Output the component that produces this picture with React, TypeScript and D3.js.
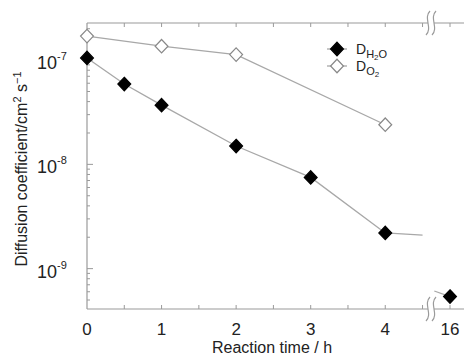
import { useEffect, useRef } from 'react';
import * as d3 from 'd3';

// reaction time (h) and diffusion coefficients (cm^2 s^-1)
const timeH2O = [0, 0.5, 1, 2, 3, 4];
const dH2O = [1.05e-7, 5.9e-8, 3.7e-8, 1.5e-8, 7.5e-9, 2.2e-9];
const tailH2O: [number, number][] = [[4, 2.2e-9], [4.5, 2.1e-9]];
const lateTime = [16];
const lateH2O = [5.4e-10];
const leadH2O: [number, number][] = [[15.78, 6.1e-10], [16, 5.4e-10]];
const timeO2 = [0, 1, 2, 4];
const dO2 = [1.7e-7, 1.36e-7, 1.13e-7, 2.4e-8];
const xTicks = [0, 1, 2, 3, 4, 16];
const xMinor = [0.5, 1.5, 2.5, 3.5, 4.5];
const yTicks = [1e-9, 1e-8, 1e-7];
const yExp = ['-9', '-8', '-7'];

export default function App() {
  const ref = useRef<SVGSVGElement | null>(null);
  useEffect(() => {
    const svg = d3.select(ref.current!);
    svg.selectAll('*').remove();
    const W = 464, H = 359;
    const L = 87, R = 470, T = 23, B = 309;
    const axisC = '#9a9a9a', lineC = '#a8a8a8', txt = '#222';
    const font = 'Liberation Sans, Arial, sans-serif';

    const x = d3.scaleLinear().domain([0, 4.6, 15.72, 16.28]).range([L, 430, 430, R]);
    const y = d3.scaleLog().domain([4.1e-10, 2.27e-7]).range([B, T]);

    svg.attr('width', W).attr('height', H).style('display', 'block');
    svg.append('rect').attr('width', W).attr('height', H).attr('fill', '#fff');
    const g = svg.append('g');

    // frame
    g.append('line').attr('x1', L).attr('x2', R).attr('y1', T).attr('y2', T).attr('stroke', axisC).attr('stroke-width', 1.2);
    g.append('line').attr('x1', L).attr('x2', R).attr('y1', B).attr('y2', B).attr('stroke', axisC).attr('stroke-width', 1.2);
    g.append('line').attr('x1', L).attr('x2', L).attr('y1', T).attr('y2', B).attr('stroke', axisC).attr('stroke-width', 1.2);

    // x ticks top & bottom
    [...xTicks, ...xMinor].forEach((t) => {
      const xx = x(t);
      if (xx <= L + 0.5) return;
      g.append('line').attr('x1', xx).attr('x2', xx).attr('y1', B).attr('y2', B - 4).attr('stroke', axisC);
      g.append('line').attr('x1', xx).attr('x2', xx).attr('y1', T).attr('y2', T + 4).attr('stroke', axisC);
    });
    xTicks.forEach((t) => {
      g.append('text').attr('x', x(t)).attr('y', B + 26).attr('text-anchor', 'middle')
        .attr('font-family', font).attr('font-size', 17).attr('fill', txt).text(String(t));
    });

    // y ticks (log minor)
    for (let e = -10; e <= -7; e++) {
      for (let m = 1; m <= 9; m++) {
        const v = m * Math.pow(10, e);
        if (v < y.domain()[0] || v > y.domain()[1]) continue;
        const major = m === 1;
        g.append('line').attr('x1', L).attr('x2', L + (major ? 6 : 3)).attr('y1', y(v)).attr('y2', y(v)).attr('stroke', axisC);
      }
    }
    yTicks.forEach((v, i) => {
      const t = g.append('text').attr('x', L - 50).attr('y', y(v) + 9)
        .attr('font-family', font).attr('font-size', 18).attr('fill', txt);
      t.append('tspan').text('10');
      t.append('tspan').attr('dy', -9).attr('font-size', 11).text(yExp[i]);
    });

    // axis titles
    g.append('text').attr('x', 272).attr('y', 353).attr('text-anchor', 'middle')
      .attr('font-family', font).attr('font-size', 16).attr('fill', txt).text('Reaction time / h');
    const yt = g.append('text').attr('transform', `translate(27,${169}) rotate(-90)`).attr('text-anchor', 'middle')
      .attr('font-family', font).attr('font-size', 16).attr('fill', txt);
    yt.append('tspan').text('Diffusion coefficient/cm');
    yt.append('tspan').attr('dy', -6).attr('font-size', 11).text('2');
    yt.append('tspan').attr('dy', 6).text(' s');
    yt.append('tspan').attr('dy', -6).attr('font-size', 11).text('−1');

    // axis break marks
    const brk = (cy: number) => {
      const bx = 431;
      g.append('rect').attr('x', bx - 3).attr('y', cy - 2).attr('width', 6).attr('height', 4).attr('fill', '#fff');
      [-3, 3].forEach((o) => {
        g.append('path')
          .attr('d', `M${bx + o + 2},${cy - 12} C${bx + o - 5},${cy - 5} ${bx + o + 5},${cy + 5} ${bx + o - 2},${cy + 12}`)
          .attr('fill', 'none').attr('stroke', axisC).attr('stroke-width', 1.2);
      });
    };
    brk(T);
    brk(B);

    const line = d3.line<[number, number]>().x((d) => x(d[0])).y((d) => y(d[1]));
    const ptsH = timeH2O.map((t, i) => [t, dH2O[i]] as [number, number]);
    const ptsO = timeO2.map((t, i) => [t, dO2[i]] as [number, number]);
    [ptsH, ptsO, tailH2O, leadH2O].forEach((p) => {
      g.append('path').attr('d', line(p)!).attr('fill', 'none').attr('stroke', lineC).attr('stroke-width', 1.3);
    });

    const sym = d3.symbol().type(d3.symbolDiamond2).size(105);
    const diamond = (cx: number, cy: number, filled: boolean) => {
      g.append('path').attr('d', sym()!).attr('transform', `translate(${cx},${cy}) scale(1,1.05)`)
        .attr('fill', filled ? '#000' : '#fff').attr('stroke', filled ? '#000' : '#888').attr('stroke-width', 1.2);
    };
    ptsO.forEach((d) => diamond(x(d[0]), y(d[1]), false));
    ptsH.forEach((d) => diamond(x(d[0]), y(d[1]), true));
    lateTime.forEach((t, i) => diamond(x(t), y(lateH2O[i]), true));

    // legend
    const lx = 337;
    const leg = [{ sub: 'H', sub2: '2', sub3: 'O', filled: true, yy: 49 }, { sub: 'O', sub2: '2', sub3: '', filled: false, yy: 66 }];
    leg.forEach((l) => {
      g.append('line').attr('x1', lx - 10).attr('x2', lx + 10).attr('y1', l.yy).attr('y2', l.yy).attr('stroke', lineC).attr('stroke-width', 1.3);
      diamond(lx, l.yy, l.filled);
      const t = g.append('text').attr('x', lx + 19).attr('y', l.yy + 5).attr('font-family', font).attr('font-size', 14).attr('fill', txt);
      t.append('tspan').text('D');
      t.append('tspan').attr('dy', 4).attr('font-size', 11).text(l.sub);
      t.append('tspan').attr('dy', 2).attr('font-size', 8).text(l.sub2);
      if (l.sub3) t.append('tspan').attr('dy', -2).attr('font-size', 11).text(l.sub3);
    });
  }, []);
  return <svg ref={ref} style={{ position: 'absolute', left: 0, top: 0 }} />;
}
